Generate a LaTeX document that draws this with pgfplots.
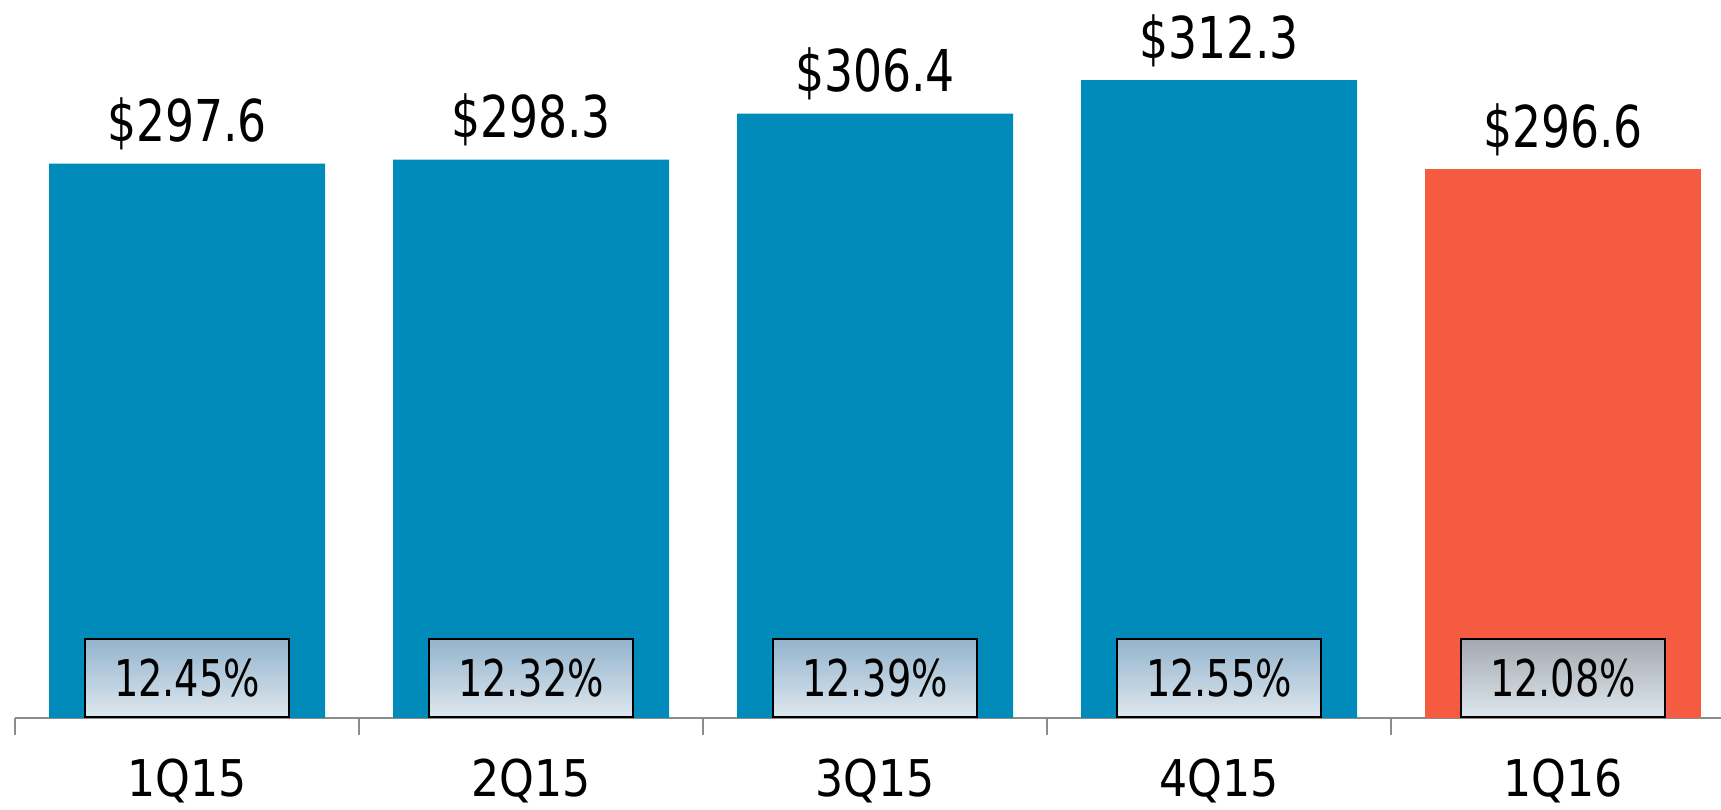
\documentclass[border=0pt]{standalone}
\usepackage{pgfplots}
\pgfplotsset{compat=1.18}
\usepackage{fontspec}
\setmainfont{DejaVu Sans Condensed}
\newfontfamily\valfont{DejaVu Sans Condensed}[FakeStretch=0.88]
\newfontfamily\boxfont{DejaVu Sans Condensed}[FakeStretch=0.84]
\newfontfamily\tickfont{DejaVu Sans Condensed}[FakeStretch=0.97]
\definecolor{barblue}{RGB}{0,139,186}
\definecolor{barorange}{RGB}{244,91,64}
\definecolor{axgray}{RGB}{140,140,140}
\definecolor{boxtopb}{RGB}{147,180,205}
\definecolor{boxbot}{RGB}{222,231,238}
\definecolor{boxtopo}{RGB}{163,169,175}
\definecolor{boxmido}{RGB}{182,201,216}
\begin{document}
\begin{tikzpicture}
\begin{axis}[
  scale only axis,
  width=511.8pt, height=215.4pt,
  xmin=-0.5, xmax=4.459,
  ymin=200, ymax=326.4,
  axis x line*=bottom,
  axis y line=none,
  axis line style={axgray, line width=0.7pt},
  xtick={0,1,2,3,4},
  xticklabels={1Q15,2Q15,3Q15,4Q15,1Q16},
  major tick length=0pt,
  extra x ticks={-0.5,0.5,1.5,2.5,3.5},
  extra x tick labels={},
  extra x tick style={major tick length=5.1pt, tick align=outside, tick style={axgray, line width=0.7pt}},
  xticklabel style={font=\tickfont\fontsize{15.2pt}{18pt}\selectfont, anchor=base, yshift=-23.7pt},
  ytick=\empty,
  clip=false,
  /pgf/number format/assume math mode=true,
]
\addplot[ybar, bar width=82.8pt, bar shift=0pt, fill=barblue, draw=none,
  nodes near coords={\$\pgfmathprintnumber[fixed,precision=1,fixed zerofill]{\pgfplotspointmeta}},
  nodes near coords style={font=\valfont\fontsize{17.3pt}{20pt}\selectfont, anchor=base, inner sep=0pt, yshift=6.6pt, text=black}]
  coordinates {(0,297.6) (1,298.3) (2,306.4) (3,312.3)};
\addplot[ybar, bar width=82.8pt, bar shift=0pt, fill=barorange, draw=none,
  nodes near coords={\$\pgfmathprintnumber[fixed,precision=1,fixed zerofill]{\pgfplotspointmeta}},
  nodes near coords style={font=\valfont\fontsize{17.3pt}{20pt}\selectfont, anchor=base, inner sep=0pt, yshift=6.6pt, text=black}]
  coordinates {(4,296.6)};
\addplot[draw=none, mark=none, point meta=explicit symbolic,
  nodes near coords,
  nodes near coords style={anchor=south, font=\boxfont\fontsize{15.2pt}{18pt}\selectfont,
    draw=black, line width=0.6pt, top color=boxtopb, bottom color=boxbot,
    minimum width=61.2pt, minimum height=23.4pt, inner sep=0pt, yshift=0pt, text=black}]
  table[meta=label] {
x y label
0 200 12.45\%
1 200 12.32\%
2 200 12.39\%
3 200 12.55\%
};
\addplot[draw=none, mark=none, point meta=explicit symbolic,
  nodes near coords,
  nodes near coords style={anchor=south, font=\boxfont\fontsize{15.2pt}{18pt}\selectfont,
    draw=black, line width=0.6pt, top color=boxtopo, middle color=boxmido, bottom color=boxbot,
    minimum width=61.2pt, minimum height=23.4pt, inner sep=0pt, yshift=0pt, text=black}]
  table[meta=label] {
x y label
4 200 12.08\%
};
\end{axis}
\pgfresetboundingbox
\useasboundingbox (-4.5pt,-27.6pt) rectangle (511.8pt,215.4pt);
\end{tikzpicture}
\end{document}
